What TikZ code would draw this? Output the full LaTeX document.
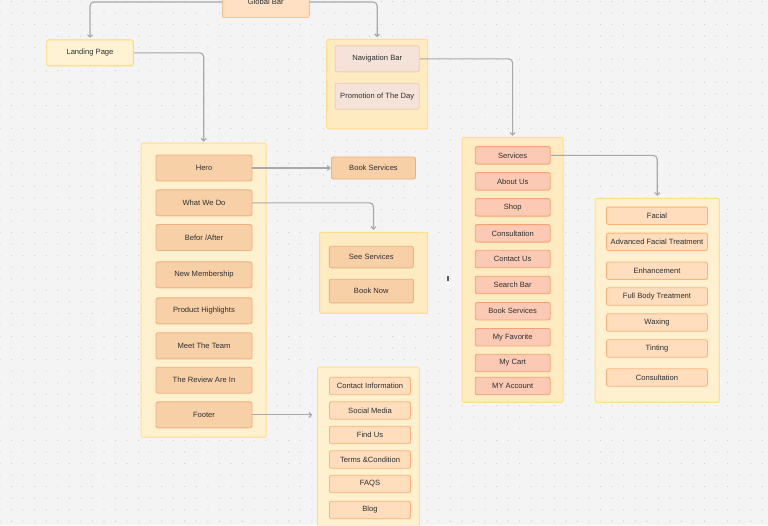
\documentclass[tikz,border=0pt]{standalone}
\usepackage{fontspec}
\setmainfont{Liberation Sans}
\usetikzlibrary{arrows.meta}
\definecolor{bg}{HTML}{F4F4F4}
\definecolor{dot}{HTML}{CBCBCB}
\definecolor{txt}{HTML}{2E2E2E}
\definecolor{conn}{HTML}{A8A8A8}
\definecolor{gbfill}{HTML}{FFE0C2}
\definecolor{gbdraw}{HTML}{F8C08C}
\definecolor{lpfill}{HTML}{FFF3D4}
\definecolor{lpdraw}{HTML}{FFD966}
\definecolor{contfill}{HTML}{FFF1D0}
\definecolor{contdraw}{HTML}{FFDE85}
\definecolor{cont2fill}{HTML}{FFEBC2}
\definecolor{navfill}{HTML}{F5E3D9}
\definecolor{navdraw}{HTML}{F1CBB0}
\definecolor{lifill}{HTML}{F8D0A8}
\definecolor{lidraw}{HTML}{EDB27F}
\definecolor{fifill}{HTML}{FFDDBD}
\definecolor{fidraw}{HTML}{F9B479}
\definecolor{sifill}{HTML}{FCCAB4}
\definecolor{sidraw}{HTML}{F7A170}
\newcommand\fs{\fontsize{7.6}{9}\selectfont}
\tikzset{
  box/.style={rectangle, rounded corners=2pt, line width=0.9pt, inner sep=0pt, font=\fs, text=txt},
  gbox/.style={box, fill=gbfill, draw=gbdraw},
  lpbox/.style={box, fill=lpfill, draw=lpdraw},
  cont/.style={box, fill=contfill, draw=contdraw, line width=1pt},
  cont2/.style={box, fill=cont2fill, draw=contdraw, line width=1pt},
  navbox/.style={box, fill=navfill, draw=navdraw, minimum width=84pt, minimum height=26pt},
  libox/.style={box, fill=lifill, draw=lidraw, minimum width=96pt, minimum height=26pt},
  mibox/.style={box, fill=lifill, draw=lidraw, minimum width=84pt},
  fibox/.style={box, fill=fifill, draw=fidraw, minimum width=81pt, minimum height=17.5pt},
  sibox/.style={box, fill=sifill, draw=sidraw, minimum width=75pt, minimum height=17.5pt},
  subbox/.style={box, fill=fifill, draw=fidraw, minimum width=101pt, minimum height=17.5pt},
  link/.style={draw=conn, line width=1.1pt, rounded corners=4pt, -{Straight Barb[length=2.5pt,width=5pt]}}
}
\begin{document}
\begin{tikzpicture}[x=1pt,y=-1pt]
\useasboundingbox (0,0) rectangle (768,525);
\clip (0,0) rectangle (768,525);
\fill[bg] (0,0) rectangle (768,525);
\foreach \i in {0,...,66}{
  \foreach \j in {0,...,45}{
    \fill[dot] (\i*11.55, 1.5+\j*11.55) circle (0.6pt);
  }
}
% containers
\node[cont, minimum width=125pt, minimum height=294pt] (lc) at (203.7,290.2) {};
\node[cont2, minimum width=101pt, minimum height=89.5pt] (nc) at (377.2,84) {};
\node[cont2, minimum width=108pt, minimum height=81pt] (sc2) at (373.5,272.8) {};
\node[cont, minimum width=101.6pt, minimum height=176pt] (fc) at (368.5,455) {};
\node[cont2, minimum width=101pt, minimum height=265pt] (sc) at (512.6,269.8) {};
\node[cont, minimum width=124.3pt, minimum height=204pt] (subc) at (657.2,300.3) {};
% top
\node[gbox, minimum width=87pt, minimum height=31pt] (gb) at (265.8,2) {Global Bar};
\node[lpbox, minimum width=86.6pt, minimum height=26pt] (lp) at (90,52.8) {Landing Page};
\node[navbox] (nb) at (377.2,58.8) {Navigation Bar};
\node[navbox] (promo) at (377.2,96.2) {Promotion of The Day};
% left column
\node[libox] (hero) at (204,168) {Hero};
\node[libox] (wwd) at (204,202.8) {What We Do};
\node[libox] (ba) at (204,237.5) {Befor /After};
\node[libox] (nm) at (204,274.8) {New Membership};
\node[libox] (ph) at (204,310.8) {Product Highlights};
\node[libox] (mt) at (204,345.8) {Meet The Team};
\node[libox] (rv) at (204,380.2) {The Review Are In};
\node[libox] (ft) at (204,414.8) {Footer};
% middle
\node[mibox, minimum height=22pt] (bs) at (373.5,168) {Book Services};
\node[mibox, minimum height=21.6pt] (ss) at (371.3,257) {See Services};
\node[mibox, minimum height=23.6pt] (bn) at (371.3,291) {Book Now};
% footer items
\node[fibox] (ci) at (370,386) {Contact Information};
\node[fibox] (sm) at (370,410.5) {Social Media};
\node[fibox] (fu) at (370,435) {Find Us};
\node[fibox] (tc) at (370,459.5) {Terms \&Condition};
\node[fibox] (fq) at (370,484) {FAQS};
\node[fibox] (bl) at (370,510) {Blog};
% services items
\node[sibox] (svc) at (512.7,155.3) {Services};
\node[sibox] (au) at (512.7,181.3) {About Us};
\node[sibox] (sh) at (512.7,207.3) {Shop};
\node[sibox] (co) at (512.7,233.3) {Consultation};
\node[sibox] (cu) at (512.7,259) {Contact Us};
\node[sibox] (sb) at (512.7,285) {Search Bar};
\node[sibox] (bs2) at (512.7,311.2) {Book Services};
\node[sibox] (mf) at (512.7,337.2) {My Favorite};
\node[sibox] (mc) at (512.7,363) {My Cart};
\node[sibox] (ma) at (512.7,386) {MY Account};
% sub services
\node[subbox] (fa) at (657,215.8) {Facial};
\node[subbox] (aft) at (657,241.8) {Advanced Facial Treatment};
\node[subbox] (en) at (657,270.7) {Enhancement};
\node[subbox] (fb) at (657,296.5) {Full Body Treatment};
\node[subbox] (wx) at (657,322.5) {Waxing};
\node[subbox] (ti) at (657,348.5) {Tinting};
\node[subbox] (cs) at (657,377.5) {Consultation};
% cursor mark
\fill[txt!80] (447.2,275.5) rectangle (449.2,281);
% connectors
\draw[link, shorten >=1.5pt] (gb.west) -| (lp.north);
\draw[link, shorten >=1.5pt] (gb.east) -| (nc.north);
\draw[link, shorten >=1pt] (lp.east) -| (lc.north);
\draw[link, shorten >=1pt] (nb.east) -| (sc.north);
\draw[link, shorten >=0.5pt] (hero.east) -- (hero.east -| bs.west);
\draw[link, shorten >=2pt] (wwd.east) -| (sc2.north);
\draw[link, shorten >=5pt] (ft.east) -- (ft.east -| fc.west);
\draw[link, shorten >=2pt] (svc.east) -| (subc.north);
\end{tikzpicture}
\end{document}
